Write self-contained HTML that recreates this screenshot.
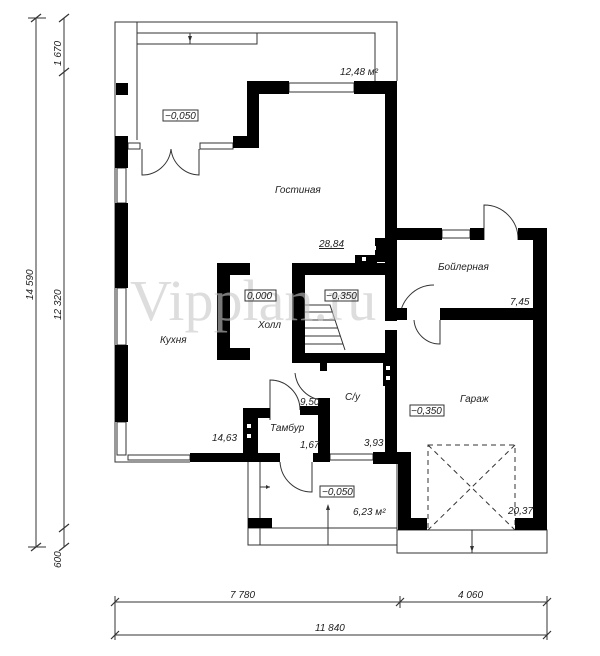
<!DOCTYPE html>
<html><head><meta charset="utf-8"><style>
html,body{margin:0;padding:0;background:#fff;}
svg{display:block;}
text{font-family:"Liberation Sans",sans-serif;font-style:italic;font-size:10px;fill:#222;}
</style></head><body>
<svg width="600" height="656" viewBox="0 0 600 656" xmlns="http://www.w3.org/2000/svg">
<g stroke="#333" stroke-width="1" fill="none">
<line x1="36" y1="18" x2="36" y2="547"/>
<line x1="64" y1="18" x2="64" y2="547"/>
<line x1="115" y1="602" x2="547" y2="602"/>
<line x1="115" y1="635" x2="547" y2="635"/>
<line x1="115" y1="596" x2="115" y2="640"/>
<line x1="400" y1="596" x2="400" y2="608"/>
<line x1="547" y1="596" x2="547" y2="640"/>
<g stroke-width="1.2">
<line x1="31" y1="22" x2="41" y2="14"/><line x1="31" y1="551" x2="41" y2="543"/>
<line x1="59" y1="22" x2="69" y2="14"/><line x1="59" y1="76" x2="69" y2="68"/>
<line x1="59" y1="532" x2="69" y2="524"/><line x1="59" y1="551" x2="69" y2="543"/>
<line x1="111" y1="606" x2="119" y2="598"/><line x1="396" y1="606" x2="404" y2="598"/><line x1="543" y1="606" x2="551" y2="598"/>
<line x1="111" y1="639" x2="119" y2="631"/><line x1="543" y1="639" x2="551" y2="631"/>
</g>
<line x1="28" y1="18" x2="46" y2="18"/><line x1="28" y1="547" x2="46" y2="547"/>
<polyline points="115,136 115,22 397,22 397,81"/>
<line x1="137" y1="22" x2="137" y2="140"/>
<polyline points="137,33 257,33 257,44 137,44"/>
<polyline points="257,33 375,33 375,81"/>
<line x1="190" y1="33" x2="190" y2="44"/>
<rect x="289" y="83" width="65" height="9"/>
<rect x="117" y="168" width="9" height="35"/>
<rect x="117" y="288" width="9" height="57"/>
<rect x="117" y="422" width="9" height="33"/>
<polyline points="115,136 115,462 190,462"/>
<rect x="128" y="455" width="62" height="5"/>
<rect x="442" y="230" width="28" height="8"/>
<rect x="330" y="454" width="43" height="6"/>
<rect x="128" y="143" width="12" height="6"/><rect x="200" y="143" width="33" height="6"/>
<path d="M142,149 L142,175 A29,29 0 0 0 171,149"/>
<path d="M199,149 L199,175 A29,29 0 0 1 171,149"/>
<path d="M484,240 L484,205 A34,34 0 0 1 518,240"/>
<path d="M400,320 A34,34 0 0 1 434,285"/>
<path d="M440,320 L440,344 A26,26 0 0 1 414,320"/>
<path d="M270,420 L270,380 A30,30 0 0 1 300,410"/>
<path d="M295,373 A30,30 0 0 0 322,400"/>
<path d="M280,462 A32,32 0 0 0 312,492 L312,462"/>
<polyline points="305,305 330,305 345,350"/>
<line x1="305" y1="312" x2="333" y2="312"/><line x1="305" y1="320" x2="335" y2="320"/>
<line x1="305" y1="328" x2="338" y2="328"/><line x1="305" y1="336" x2="340" y2="336"/>
<line x1="305" y1="344" x2="343" y2="344"/>
<polyline points="248,462 248,545 397,545 397,462"/>
<line x1="260" y1="462" x2="260" y2="545"/>
<line x1="248" y1="528" x2="397" y2="528"/>
<line x1="260" y1="487" x2="270" y2="487"/>
<line x1="328" y1="506" x2="328" y2="545"/>
<rect x="397" y="530" width="150" height="23"/>
<line x1="472" y1="530" x2="472" y2="553"/>
<rect x="428" y="445" width="87" height="85" stroke-dasharray="5,4"/>
<line x1="428" y1="445" x2="515" y2="530" stroke-dasharray="5,4"/>
<line x1="515" y1="445" x2="428" y2="530" stroke-dasharray="5,4"/>
<line x1="375" y1="58" x2="375" y2="81"/>
</g>
<g fill="#333">
<polygon points="188,36 192,36 190,42"/><polygon points="266,485 266,489 270,487"/>
<polygon points="326,510 330,510 328,504"/><polygon points="470,546 474,546 472,552"/>
</g>
<g fill="#000">
<rect x="116" y="83" width="12" height="12"/>
<rect x="247" y="81" width="42" height="13"/><rect x="354" y="81" width="43" height="13"/>
<rect x="247" y="81" width="12" height="67"/><rect x="233" y="136" width="26" height="12"/>
<rect x="115" y="136" width="13" height="32"/><rect x="115" y="203" width="13" height="85"/>
<rect x="115" y="345" width="13" height="77"/>
<rect x="385" y="81" width="12" height="240"/>
<rect x="385" y="330" width="12" height="125"/>
<rect x="397" y="228" width="45" height="12"/><rect x="470" y="228" width="14" height="12"/>
<rect x="518" y="228" width="29" height="12"/>
<rect x="533" y="228" width="14" height="302"/>
<rect x="440" y="308" width="93" height="12"/>
<rect x="397" y="308" width="10" height="12"/>
<rect x="373" y="452" width="37" height="12"/>
<rect x="398" y="452" width="13" height="78"/>
<rect x="398" y="518" width="29" height="12"/><rect x="515" y="518" width="32" height="12"/>
<rect x="217" y="263" width="13" height="97"/><rect x="217" y="263" width="33" height="12"/><rect x="217" y="348" width="33" height="12"/>
<rect x="292" y="263" width="13" height="99"/><rect x="292" y="263" width="93" height="12"/>
<rect x="292" y="353" width="103" height="10"/>
<rect x="320" y="363" width="7" height="8"/>
<rect x="383" y="362" width="10" height="24"/>
<rect x="243" y="408" width="15" height="50"/><rect x="243" y="408" width="27" height="10"/>
<rect x="300" y="406" width="27" height="9"/><rect x="318" y="398" width="12" height="60"/>
<rect x="190" y="453" width="90" height="9"/><rect x="313" y="453" width="17" height="9"/>
<rect x="248" y="518" width="24" height="10"/>
<rect x="375" y="238" width="12" height="24"/><rect x="355" y="255" width="22" height="10"/>
</g>
<g fill="#fff">
<rect x="372" y="246" width="4" height="4"/><rect x="362" y="257" width="4" height="4"/>
<rect x="386" y="366" width="4" height="4"/><rect x="386" y="376" width="4" height="4"/>
<rect x="247" y="424" width="4" height="4"/><rect x="247" y="434" width="4" height="4"/>
</g>
<text x="130" y="320" style="font-family:'Liberation Serif',serif;font-style:normal;font-size:58px;fill:#c8c8c8;opacity:.6">Vipplan.ru</text>
<g stroke="#333" fill="none"><rect x="163" y="110" width="35" height="11"/><rect x="245" y="290" width="31" height="11"/>
<rect x="325" y="290" width="33" height="11"/><rect x="410" y="405" width="34" height="11"/><rect x="320" y="486" width="34" height="11"/></g>
<text x="165" y="119">−0,050</text>
<text x="340" y="75">12,48 м²</text>
<text x="275" y="193">Гостиная</text>
<text x="319" y="247" style="text-decoration:underline">28,84</text>
<text x="438" y="270">Бойлерная</text>
<text x="510" y="305">7,45</text>
<text x="247" y="299">0,000</text>
<text x="326" y="299">−0,350</text>
<text x="258" y="328">Холл</text>
<text x="160" y="343">Кухня</text>
<text x="345" y="400">С/у</text>
<text x="460" y="402">Гараж</text>
<text x="411" y="414">−0,350</text>
<text x="300" y="405">9,50</text>
<text x="270" y="431">Тамбур</text>
<text x="212" y="441">14,63</text>
<text x="300" y="448">1,67</text>
<text x="364" y="446">3,93</text>
<text x="322" y="495">−0,050</text>
<text x="353" y="515">6,23 м²</text>
<text x="508" y="514">20,37</text>
<text x="230" y="598">7 780</text>
<text x="458" y="598">4 060</text>
<text x="315" y="631">11 840</text>
<text transform="translate(33,300) rotate(-90)">14 590</text>
<text transform="translate(61,320) rotate(-90)">12 320</text>
<text transform="translate(61,66) rotate(-90)">1 670</text>
<text transform="translate(61,568) rotate(-90)">600</text>
</svg>
</body></html>
